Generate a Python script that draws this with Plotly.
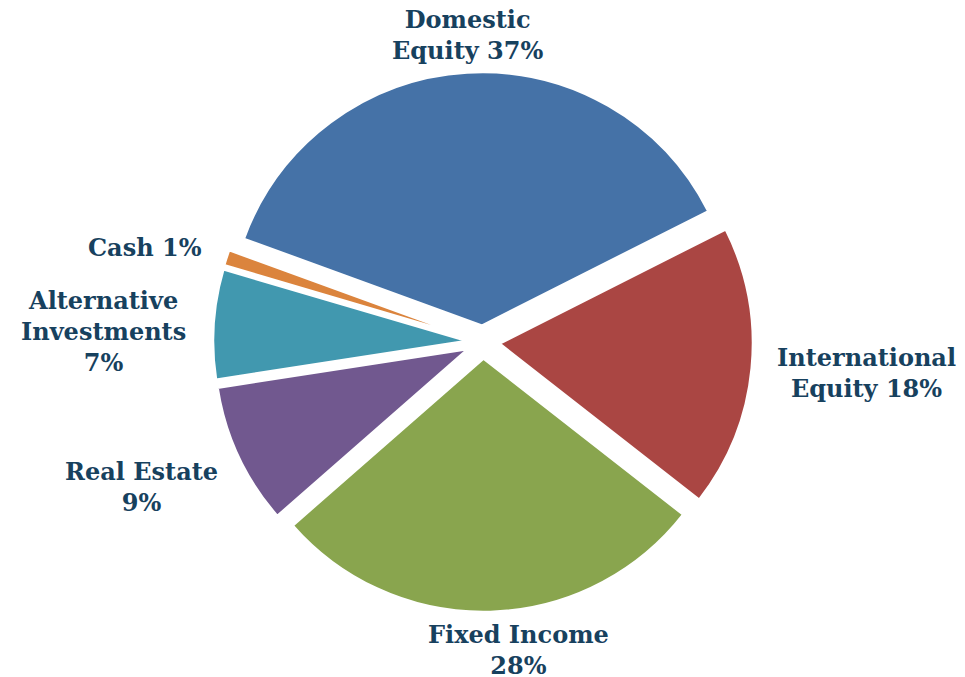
import plotly.graph_objects as go

categories = ["Domestic Equity", "International Equity", "Fixed Income",
              "Real Estate", "Alternative Investments", "Cash"]
values = [37, 18, 28, 9, 7, 1]
label_lines = ["Domestic<br>Equity {v}%", "International<br>Equity {v}%",
               "Fixed Income<br>{v}%", "Real Estate<br>{v}%",
               "Alternative<br>Investments<br>{v}%", "Cash {v}%"]
colors = ["#4572A7", "#AA4643", "#89A54E", "#71588F", "#4198AF", "#DB843D"]
pulls = [0.065, 0.065, 0.065, 0.065, 0.065, 0.065]

W, H = 957, 669  # page body keeps an 8px margin
OFF = 8
# label centres (pixels in the 965x677 view)
label_px = [(467, 35), (866, 373), (518, 650), (141, 487), (103, 331), (145, 248)]

text_color = "#17415E"
font_family = "DejaVu Serif"

cx, cy, R = 483 - OFF, 342 - OFF, 270
fig = go.Figure(go.Pie(
    labels=categories, values=values, sort=False, direction="clockwise",
    rotation=-70, pull=pulls, textinfo="none", hoverinfo="label+percent",
    marker=dict(colors=colors, line=dict(color="white", width=2.5)),
    domain=dict(x=[(cx - R) / W, (cx + R) / W],
                y=[(H - cy - R) / H, (H - cy + R) / H]),
    showlegend=False,
))

for i, v in enumerate(values):
    px, py = label_px[i]
    fig.add_annotation(
        x=(px - OFF) / W, y=1 - (py - OFF) / H, xref="paper", yref="paper",
        text="<b>" + label_lines[i].format(v=v) + "</b>", showarrow=False,
        font=dict(family=font_family, size=24, color=text_color),
        align="center", xanchor="center", yanchor="middle",
    )

fig.update_layout(
    width=W, height=H, margin=dict(l=0, r=0, t=0, b=0),
    paper_bgcolor="white", plot_bgcolor="white",
)

fig.write_html("out.html")
